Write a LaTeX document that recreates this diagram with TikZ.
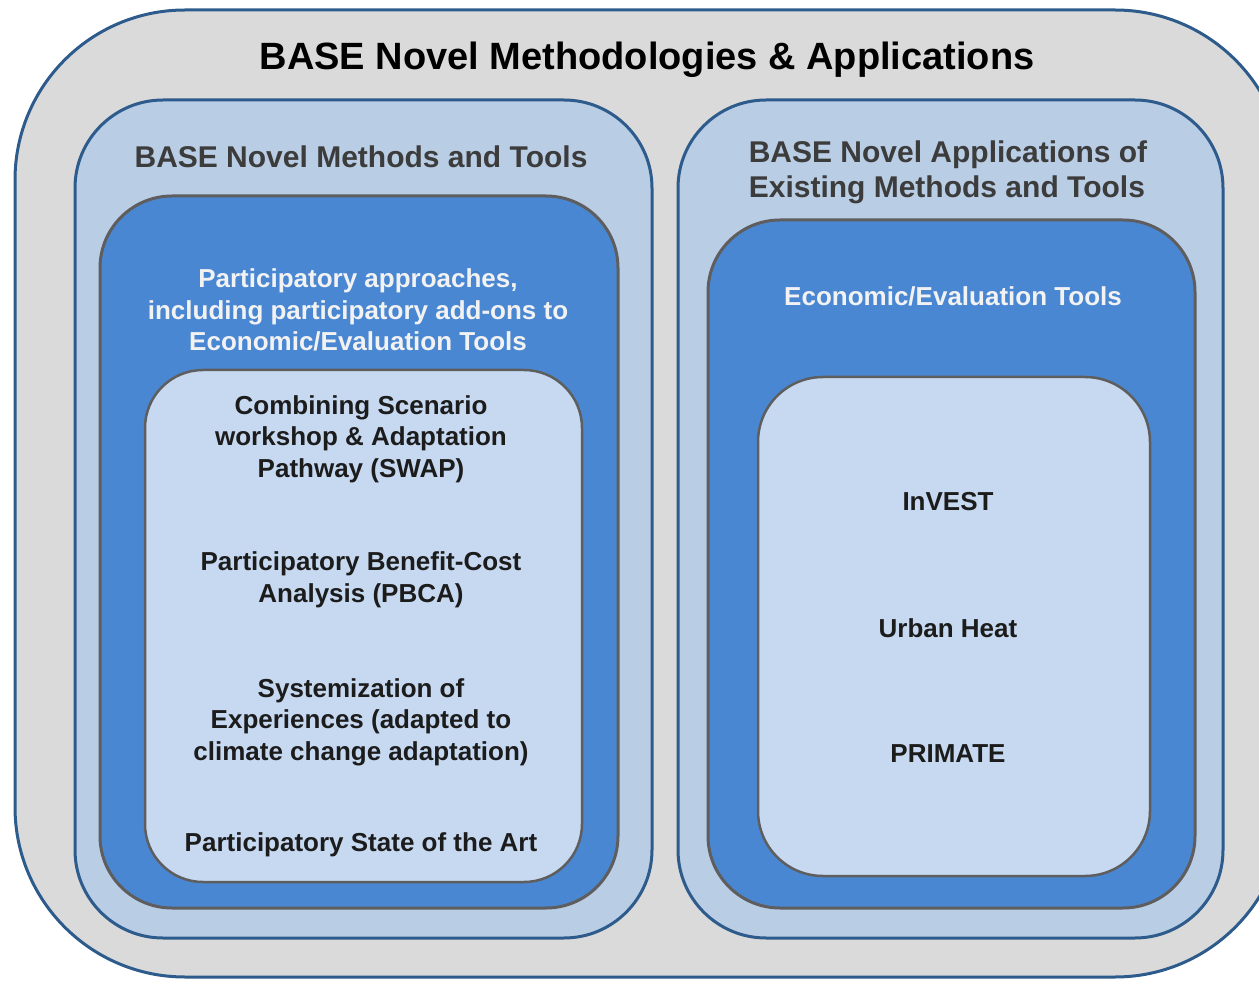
\documentclass[tikz,border=0pt]{standalone}
\usepackage{fontspec}
\setmainfont{Liberation Sans}
\definecolor{bgray}{HTML}{DADADA}
\definecolor{navyline}{HTML}{2D5B8C}
\definecolor{panelblue}{HTML}{B9CDE5}
\definecolor{midblue}{HTML}{4A87D2}
\definecolor{paleblue}{HTML}{C6D9F1}
\definecolor{greyline}{HTML}{5E5E5E}
\definecolor{headtext}{HTML}{3C3C3C}
\definecolor{bodytext}{HTML}{1C1C1C}
\begin{document}
\begin{tikzpicture}[x=1pt,y=-1pt,
  box/.style={rectangle,inner sep=0pt,outer sep=0pt},
  outerbox/.style={box,draw=navyline,line width=3pt,fill=bgray},
  panelbox/.style={box,draw=navyline,line width=3pt,fill=panelblue},
  corebox/.style={box,draw=greyline,line width=3pt,fill=midblue},
  itembox/.style={box,draw=greyline,line width=2.5pt,fill=paleblue},
  titletext/.style={font=\bfseries\fontsize{38}{44}\selectfont,text=black},
  headtxt/.style={font=\bfseries\fontsize{30}{35}\selectfont,text=headtext,align=left},
  whitetxt/.style={font=\bfseries\fontsize{26}{31.5}\selectfont,text=white!95!black,align=center},
  itemtxt/.style={font=\bfseries\fontsize{26}{31.5}\selectfont,text=bodytext,align=center}]
\useasboundingbox (0,0) rectangle (1259,981);
\clip (0,0) rectangle (1259,981);
\fill[white] (0,0) rectangle (1259,981);

% nested rounded frames
\node[outerbox,minimum width=1270,minimum height=967,rounded corners=170] (outer) at (650,493.5) {};
\node[panelbox,minimum width=577,minimum height=838,rounded corners=88] (lpanel) at (363.5,519) {};
\node[panelbox,minimum width=545,minimum height=838,rounded corners=88] (rpanel) at (950.5,519) {};
\node[corebox,minimum width=518,minimum height=712,rounded corners=72] (lcore) at (359,552) {};
\node[corebox,minimum width=487,minimum height=688,rounded corners=72] (rcore) at (951.5,564) {};
\node[itembox,minimum width=437,minimum height=512,rounded corners=58] (litems) at (363.5,626) {};
\node[itembox,minimum width=392,minimum height=499,rounded corners=65] (ritems) at (954,626.5) {};

% headings
\node[titletext] (title) at (647,60) {BASE Novel Methodologies \& Applications};
\node[headtxt] (lhead) at (361,157) {BASE Novel Methods and Tools};
\node[headtxt] (rhead) at (948,172) {BASE Novel Applications of\\Existing Methods and Tools};
\node[whitetxt] (lsub) at (358,310) {Participatory approaches,\\including participatory add-ons to\\Economic/Evaluation Tools};
\node[whitetxt] (rsub) at (953,296) {Economic/Evaluation Tools};

% left items
\node[itemtxt] (swap) at (361,439) {Combining Scenario\\workshop \& Adaptation\\Pathway (SWAP)};
\node[itemtxt] (pbca) at (361,580) {Participatory Benefit-Cost\\Analysis (PBCA)};
\node[itemtxt] (syst) at (361,722) {Systemization of\\Experiences (adapted to\\climate change adaptation)};
\node[itemtxt] (psota) at (361,845) {Participatory State of the Art};

% right items
\node[itemtxt] (invest) at (948,502) {InVEST};
\node[itemtxt] (uheat) at (948,628) {Urban Heat};
\node[itemtxt] (primate) at (948,754) {PRIMATE};
\end{tikzpicture}
\end{document}
